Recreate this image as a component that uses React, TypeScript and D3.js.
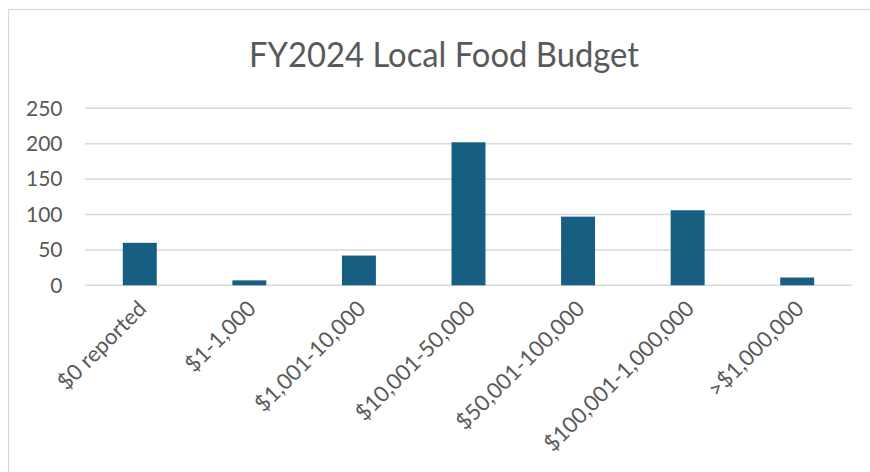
import React from "react";
import * as d3 from "d3";

const categories = [
  "$0 reported",
  "$1-1,000",
  "$1,001-10,000",
  "$10,001-50,000",
  "$50,001-100,000",
  "$100,001-1,000,000",
  ">$1,000,000",
];
const values = [60, 7, 42, 202, 97, 106, 11];
const yTicks = [0, 50, 100, 150, 200, 250];
const title = "FY2024 Local Food Budget";

const W = 870;
const H = 472;
const FONT = "Lato, 'Open Sans', sans-serif";
const TEXT = "#595959";
const GRID = "#d9d9d9";
const BAR = "#175f82";

export default function App() {
  const x = d3
    .scaleBand<string>()
    .domain(categories)
    .range([85, 852])
    .paddingInner(0.69)
    .paddingOuter(0.345);
  const y = d3.scaleLinear().domain([0, 250]).range([285.3, 108.3]);

  return (
    <svg
      width={W}
      height={H}
      style={{ position: "absolute", left: 0, top: 0, background: "#fff" }}
    >
      <rect x={0} y={0} width={W} height={H} fill="#fff" />
      <rect
        x={8.5}
        y={9.5}
        width={W + 20}
        height={H + 20}
        fill="none"
        stroke={GRID}
        strokeWidth={1.2}
      />
      <text
        x={444}
        y={66.5}
        textAnchor="middle"
        fontFamily={FONT}
        fontSize={34}
        fill={TEXT}
        textLength={390}
        lengthAdjust="spacingAndGlyphs"
      >
        {title}
      </text>
      {yTicks.map((t) => (
        <g key={t}>
          <line
            x1={85}
            x2={852}
            y1={y(t)}
            y2={y(t)}
            stroke={GRID}
            strokeWidth={1.5}
          />
          <text
            x={62.5}
            y={y(t)}
            dy="0.35em"
            textAnchor="end"
            fontFamily={FONT}
            fontSize={21}
            fill={TEXT}
          >
            {t}
          </text>
        </g>
      ))}
      {categories.map((c, i) => (
        <rect
          key={c}
          x={x(c)}
          y={y(values[i])}
          width={x.bandwidth()}
          height={y(0) - y(values[i])}
          fill={BAR}
        />
      ))}
      {categories.map((c) => {
        const cx = (x(c) as number) + x.bandwidth() / 2;
        return (
          <text
            key={c}
            transform={`translate(${cx + 8},${310}) rotate(-45)`}
            textAnchor="end"
            fontFamily={FONT}
            fontSize={22}
            fill={TEXT}
          >
            {c}
          </text>
        );
      })}
    </svg>
  );
}
